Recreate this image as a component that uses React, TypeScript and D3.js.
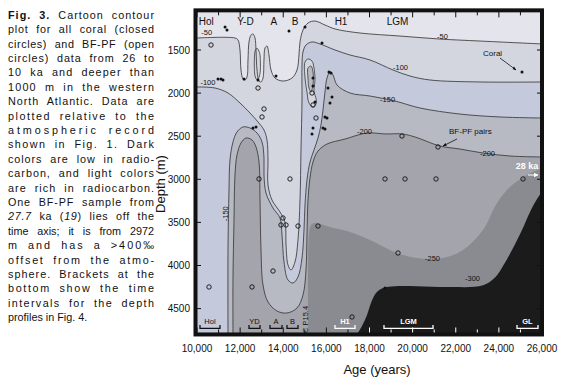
import React, { useLayoutEffect, useRef } from "react";
import * as d3 from "d3";

type P = [number, number];

// ---------------- data ----------------
const ageMajorTicks = [10000, 12000, 14000, 16000, 18000, 20000, 22000, 24000, 26000];
const ageMinorTicks = [11000, 13000, 15000, 17000, 19000, 21000, 23000, 25000];
const depthTicks = [1500, 2000, 2500, 3000, 3500, 4000, 4500];
const AGE_DOMAIN: P = [10000, 26000];
const DEPTH_DOMAIN: P = [1040, 4800];

// contour lines [age, depth]
const c50: P[] = [[10000,1361],[11762,1361],[11901,1384],[11994,1500],[12040,1732],[12133,1836],[12226,1848],[12319,1813],[12365,1616],[12412,1407],[12505,1326],[12597,1314],[12690,1361],[12736,1500],[12783,1732],[12875,1860],[12968,1871],[13061,1825],[13107,1616],[13154,1477],[13246,1454],[13339,1558],[13432,1732],[13617,1825],[13988,1860],[14406,1825],[14638,1732],[14730,1558],[14777,1407],[14916,1268],[15148,1187],[15472,1164],[15936,1210],[16400,1256],[17559,1303],[19414,1338],[21270,1373],[23125,1396],[26000,1430]];
const c100: P[] = [[10000,1929],[10835,1941],[11438,1999],[11994,2115],[12458,2231],[12829,2335],[13107,2428],[13246,2544],[13293,2776],[13293,3066],[13478,3240],[13849,3379],[14081,3495],[14128,3762],[14220,3994],[14359,4052],[14545,3959],[14684,3704],[14777,3240],[14823,2660],[14870,2080],[14870,1674],[14916,1523],[15055,1442],[15333,1407],[15704,1430],[16400,1500],[17096,1558],[18023,1616],[19090,1732],[19878,1802],[20806,1848],[23125,1871],[26000,1871]];
const c150: P[] = [[11438,4800],[11438,3820],[11484,3124],[11530,2776],[11669,2567],[11855,2451],[12133,2393],[12458,2405],[12783,2463],[13015,2567],[13107,2753],[13107,2950],[13200,3159],[13525,3333],[13849,3449],[13942,3646],[14035,3959],[14220,4168],[14452,4203],[14684,4133],[14870,3913],[14962,3588],[15009,3298],[15101,3008],[15241,2799],[15426,2660],[15612,2521],[15750,2370],[15843,2196],[15936,1987],[16029,1825],[16168,1755],[16307,1790],[16493,1906],[17096,1999],[18023,2034],[19183,2092],[20342,2173],[22197,2243],[24052,2277],[26000,2289]];
const c200: P[] = [[11669,4800],[11669,4168],[11716,3472],[11762,2950],[11855,2718],[12040,2579],[12272,2521],[12551,2544],[12736,2625],[12875,2799],[12922,3240],[12968,3820],[13061,4226],[13293,4423],[13710,4528],[14174,4551],[14638,4493],[14916,4342],[15055,4052],[15101,3646],[15148,3240],[15241,2985],[15380,2799],[15612,2672],[16029,2591],[16864,2533],[17884,2463],[18719,2474],[19507,2474],[20110,2509],[21270,2614],[22197,2649],[23264,2695],[24516,2730],[26000,2741]];
const c250: P[] = [[15148,4800],[15148,4168],[15194,3646],[15287,3530],[15472,3507],[16168,3553],[17096,3611],[18023,3704],[19275,3855],[20203,3913],[21409,3913],[22336,3820],[23264,3588],[23913,3275],[24516,3089],[25304,2950],[26000,2869]];
const c300: P[] = [[17420,4800],[17652,4702],[17884,4574],[18069,4435],[18301,4319],[18626,4261],[19183,4240],[20203,4240],[21733,4250],[23264,4230],[23820,4140],[24191,4006],[24609,3820],[25072,3588],[25443,3379],[25768,3228],[26000,3147]];
const ydLoop: P[] = [[12783,1480],[12900,1530],[12940,1640],[12930,1760],[12850,1830],[12760,1840],[12690,1800],[12660,1700],[12665,1580],[12710,1500]];
const h1Outer: P[] = [[15009,1639],[15148,1604],[15333,1628],[15426,1709],[15472,1848],[15426,1987],[15519,2057],[15519,2126],[15380,2161],[15194,2115],[15101,1987],[15009,1825]];
const h1Inner: P[] = [[15148,1709],[15287,1686],[15380,1755],[15380,1906],[15287,1987],[15194,1941],[15148,1825]];

// samples
const coral: P[] = [[11300,1233],[11391,1268],[10974,1836],[11113,1836],[11206,1848],[12180,1836],[12829,1848],[13664,1802],[14267,1280],[15009,1233],[15797,1419],[16122,1755],[16215,1767],[15380,1825],[15380,1918],[15472,2103],[16075,1941],[16261,2045],[16168,2115],[15936,2277],[16029,2289],[15380,2405],[15843,2405],[15936,2416],[15333,2474],[12597,2405],[12736,2393],[25072,1755],[18719,4261]];
const bfpf: P[] = [[10649,1442],[12829,1941],[13107,2184],[13015,2277],[12875,2996],[14313,2996],[13988,3449],[13896,3530],[14128,3530],[14684,3542],[15612,3542],[13525,4064],[10557,4249],[12551,4249],[17189,4597],[18719,2996],[19646,2996],[21084,2996],[25119,2996],[19322,3855],[19507,2498],[21177,2625],[15333,1999],[15380,2138],[15519,2289]];

const periods = [
  { label: "Hol", age: 10430 },
  { label: "Y-D", age: 12250 },
  { label: "A", age: 13560 },
  { label: "B", age: 14550 },
  { label: "H1", age: 16680 },
  { label: "LGM", age: 19300 },
];
const brackets = [
  { label: "Hol", from: 10139, to: 11067 },
  { label: "YD", from: 12412, to: 12922 },
  { label: "A", from: 13386, to: 13942 },
  { label: "B", from: 14174, to: 14684 },
  { label: "H1", from: 16400, to: 17328 },
  { label: "LGM", from: 18672, to: 20945 },
  { label: "GL", from: 24841, to: 25814 },
];
const contourLabels = [
  { text: "-50", age: 10200, depth: 1300 },
  { text: "-50", age: 21130, depth: 1340 },
  { text: "-100", age: 10160, depth: 1880 },
  { text: "-100", age: 19090, depth: 1700 },
  { text: "-150", age: 18490, depth: 2075 },
  { text: "-200", age: 17420, depth: 2440 },
  { text: "-200", age: 23125, depth: 2700 },
  { text: "-250", age: 20574, depth: 3920 },
  { text: "-300", age: 22429, depth: 4150 },
];
const captionLines: [string, string][][] = [
  [["Fig. 3.", "b"], [" Cartoon contour", ""]],
  [["plot for all coral (closed", ""]],
  [["circles) and BF-PF (open", ""]],
  [["circles) data from 26 to", ""]],
  [["10 ka and deeper than", ""]],
  [["1000 m in the western", ""]],
  [["North Atlantic. Data are", ""]],
  [["plotted relative to the", ""]],
  [["atmospheric record", ""]],
  [["shown in Fig. 1. Dark", ""]],
  [["colors are low in radio-", ""]],
  [["carbon, and light colors", ""]],
  [["are rich in radiocarbon.", ""]],
  [["One BF-PF sample from", ""]],
  [["27.7", "i"], [" ka (", ""], ["19", "i"], [") lies off the", ""]],
  [["time axis; it is from 2972", ""]],
  [["m and has a >400\u2030", ""]],
  [["offset from the atmo-", ""]],
  [["sphere. Brackets at the", ""]],
  [["bottom show the time", ""]],
  [["intervals for the depth", ""]],
  [["profiles in Fig. 4.", ""]],
];

// ---------------- styles ----------------
const FILLS = ["#e4e5ec", "#d4d6df", "#c5c9dc", "#b7b9c3", "#a3a4ac", "#8a8b91", "#1b1b1b"];
const LINE = "#3a3a3a";
const SANS = "'Liberation Sans', Arial, sans-serif";
const WHITE_BRACKETS = new Set(["H1", "LGM", "GL"]);

function Caption() {
  const ref = useRef<SVGGElement>(null);
  const capX0 = 8, capX1 = 154;
  useLayoutEffect(() => {
    const g = ref.current;
    if (!g) return;
    const texts = Array.from(g.querySelectorAll("text")) as SVGTextElement[];
    texts.forEach((t, i) => {
      if (i === texts.length - 1) return;
      t.setAttribute("word-spacing", "0");
      const w = t.getComputedTextLength();
      const str = t.textContent || "";
      const spaces = (str.match(/ /g) || []).length;
      const extra = capX1 - capX0 - w;
      if (spaces > 0 && extra > 0) {
        const ws = extra / spaces;
        if (ws < 6) {
          t.setAttribute("word-spacing", String(ws));
        } else {
          t.setAttribute("word-spacing", "4");
          t.setAttribute("textLength", String(capX1 - capX0));
          t.setAttribute("lengthAdjust", "spacing");
        }
      }
    });
  }, []);
  return (
    <g ref={ref} fontFamily={SANS} fontSize={10.8} fill="#111">
      {captionLines.map((segs, i) => (
        <text key={i} x={capX0} y={18.8 + i * 14.4}>
          {segs.map(([t, s], j) => (
            <tspan key={j} fontWeight={s === "b" ? "bold" : "normal"} fontStyle={s === "i" ? "italic" : "normal"}>
              {t}
            </tspan>
          ))}
        </text>
      ))}
    </g>
  );
}

export default function App() {
  const x = d3.scaleLinear().domain(AGE_DOMAIN).range([197, 542]);
  const y = d3.scaleLinear().domain([1500, 4500]).range([50, 308.6]);
  const yTop = y(DEPTH_DOMAIN[0]);
  const yBot = y(DEPTH_DOMAIN[1]);
  const line = d3.line<P>().x((d) => x(d[0])).y((d) => y(d[1])).curve(d3.curveCatmullRom.alpha(0.5));
  const loop = d3.line<P>().x((d) => x(d[0])).y((d) => y(d[1])).curve(d3.curveCatmullRomClosed.alpha(0.5));
  const BR = `L${x(AGE_DOMAIN[1])},${yBot}`;
  const BL = `L${x(AGE_DOMAIN[0])},${yBot}`;

  const regions = [
    { d: `${line(c50)}${BR}${BL}Z`, fill: FILLS[1] },
    { d: `${line(c100)}${BR}${BL}Z`, fill: FILLS[2] },
    { d: `${line(c150)}${BR}Z`, fill: FILLS[3] },
    { d: `${line(c200)}${BR}Z`, fill: FILLS[4] },
    { d: `${line(c250)}${BR}Z`, fill: FILLS[5] },
    { d: `${line(c300)}${BR}Z`, fill: FILLS[6] },
  ];

  return (
    <svg width={566} height={379} style={{ display: "block", position: "absolute", left: 0, top: 0, background: "#fff" }}>
      <defs>
        <clipPath id="plot">
          <rect x={x(AGE_DOMAIN[0])} y={yTop} width={x(AGE_DOMAIN[1]) - x(AGE_DOMAIN[0])} height={yBot - yTop} />
        </clipPath>
        <marker id="ah" viewBox="0 0 10 10" refX="9" refY="5" markerWidth="5" markerHeight="5" orient="auto">
          <path d="M0,1 L10,5 L0,9 Z" fill="#111" />
        </marker>
        <marker id="ahw" viewBox="0 0 10 10" refX="9" refY="5" markerWidth="4" markerHeight="4" orient="auto">
          <path d="M0,0 L10,5 L0,10 Z" fill="#fff" />
        </marker>
      </defs>

      <Caption />

      {/* plot */}
      <g clipPath="url(#plot)">
        <rect x={x(AGE_DOMAIN[0])} y={yTop} width={x(AGE_DOMAIN[1]) - x(AGE_DOMAIN[0])} height={yBot - yTop} fill={FILLS[0]} />
        {regions.map((r, i) => (
          <path key={i} d={r.d} fill={r.fill} />
        ))}
        <path d={loop(ydLoop) || ""} fill={FILLS[1]} stroke={LINE} strokeWidth={0.8} />
        <path d={loop(h1Outer) || ""} fill={FILLS[1]} stroke={LINE} strokeWidth={0.8} />
        <path d={loop(h1Inner) || ""} fill={FILLS[3]} stroke={LINE} strokeWidth={0.8} />
        {[c50, c100, c150, c200].map((c, i) => (
          <path key={i} d={line(c) || ""} fill="none" stroke={LINE} strokeWidth={0.85} />
        ))}

        {/* contour labels */}
        {contourLabels.map((l, i) => (
          <text key={i} x={x(l.age)} y={y(l.depth)} fontFamily={SANS} fontSize={7.5} fill="#111" dominantBaseline="central">
            {l.text}
          </text>
        ))}
        <text
          transform={`translate(${x(11330)},${y(3400)}) rotate(-90)`}
          fontFamily={SANS}
          fontSize={7.5}
          textAnchor="middle"
          dominantBaseline="central"
          fill="#111"
        >
          -150
        </text>

        {/* samples */}
        {bfpf.map((p, i) => (
          <circle key={"o" + i} cx={x(p[0])} cy={y(p[1])} r={2.2} fill="none" stroke="#111" strokeWidth={0.9} />
        ))}
        {coral.map((p, i) => (
          <circle key={"c" + i} cx={x(p[0])} cy={y(p[1])} r={1.5} fill="#111" />
        ))}

        {/* period labels on top */}
        {periods.map((p) => (
          <text key={p.label} x={x(p.age)} y={y(1175)} fontFamily={SANS} fontSize={10} textAnchor="middle" dominantBaseline="central" fill="#111">
            {p.label}
          </text>
        ))}

        {/* annotations */}
        <text x={x(23264)} y={y(1535)} fontFamily={SANS} fontSize={8} dominantBaseline="central" fill="#111">Coral</text>
        <line x1={x(24052)} y1={y(1593)} x2={x(24795)} y2={y(1732)} stroke="#111" strokeWidth={0.8} markerEnd="url(#ah)" />
        <text x={x(21687)} y={y(2440)} fontFamily={SANS} fontSize={8} dominantBaseline="central" fill="#111">BF-PF pairs</text>
        <line x1={x(22058)} y1={y(2532)} x2={x(21409)} y2={y(2614)} stroke="#111" strokeWidth={0.8} markerEnd="url(#ah)" />
        <text x={x(25304)} y={y(2846)} fontFamily={SANS} fontSize={9} fontWeight="bold" textAnchor="middle" dominantBaseline="central" fill="#fff">28 ka</text>
        <line x1={x(25350)} y1={y(2950)} x2={x(25814)} y2={y(2950)} stroke="#fff" strokeWidth={1.2} markerEnd="url(#ahw)" />

        {/* brackets */}
        {brackets.map((b) => {
          const col = WHITE_BRACKETS.has(b.label) ? "#fff" : "#111";
          const by = yBot - 6;
          return (
            <g key={b.label}>
              <path d={`M${x(b.from)},${by - 3.5}V${by}H${x(b.to)}V${by - 3.5}`} fill="none" stroke={col} strokeWidth={1.3} />
              <text x={(x(b.from) + x(b.to)) / 2} y={by - 7} fontFamily={SANS} fontSize={7.5} fontWeight={WHITE_BRACKETS.has(b.label) ? "bold" : "normal"} textAnchor="middle" dominantBaseline="central" fill={col}>
                {b.label}
              </text>
            </g>
          );
        })}
        <text transform={`translate(${x(15050)},${yBot - 15}) rotate(-90)`} fontFamily={SANS} fontSize={7.5} textAnchor="middle" dominantBaseline="central" fill="#111">
          C P15.4
        </text>

        {/* ticks */}
        {[...ageMajorTicks, ...ageMinorTicks].map((a) => {
          const len = ageMajorTicks.includes(a) ? 5 : 3;
          const bottomCol = a >= 18000 ? "#fff" : "#111";
          return (
            <g key={"t" + a}>
              <line x1={x(a)} x2={x(a)} y1={yTop} y2={yTop + len + 2} stroke="#111" strokeWidth={1} />
              <line x1={x(a)} x2={x(a)} y1={yBot} y2={yBot - len - 2} stroke={bottomCol} strokeWidth={1} />
            </g>
          );
        })}
        {depthTicks.map((d) => (
          <g key={"d" + d}>
            <line x1={x(AGE_DOMAIN[1])} x2={x(AGE_DOMAIN[1]) - 5} y1={y(d)} y2={y(d)} stroke="#111" strokeWidth={1} />
            <line x1={x(AGE_DOMAIN[0])} x2={x(AGE_DOMAIN[0]) + 4} y1={y(d)} y2={y(d)} stroke="#111" strokeWidth={1} />
          </g>
        ))}
      </g>

      {/* frame */}
      <rect x={195.5} y={yTop} width={x(AGE_DOMAIN[1]) - 195.5} height={yBot - yTop} fill="none" stroke="#111" strokeWidth={4} />

      {/* axis labels */}
      {depthTicks.map((d) => (
        <text key={"yl" + d} x={190} y={y(d)} fontFamily={SANS} fontSize={10} textAnchor="end" dominantBaseline="central" fill="#111">
          {d}
        </text>
      ))}
      {ageMajorTicks.map((a) => (
        <text key={"xl" + a} x={x(a)} y={348} fontFamily={SANS} fontSize={10} textAnchor="middle" dominantBaseline="central" fill="#111">
          {d3.format(",")(a)}
        </text>
      ))}
      <text transform={`translate(160,184) rotate(-90)`} fontFamily={SANS} fontSize={13} textAnchor="middle" dominantBaseline="central" fill="#111">
        Depth (m)
      </text>
      <text x={377} y={369} fontFamily={SANS} fontSize={13} textAnchor="middle" dominantBaseline="central" fill="#111">
        Age (years)
      </text>
    </svg>
  );
}
